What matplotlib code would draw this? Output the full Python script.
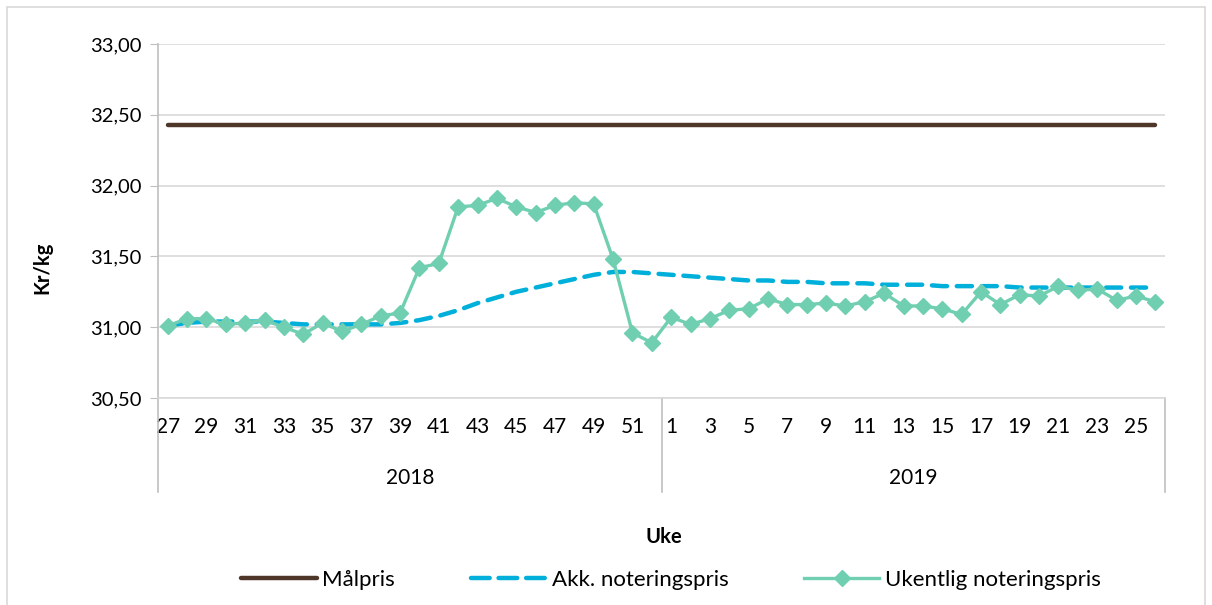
import matplotlib
matplotlib.use("Agg")
import matplotlib.pyplot as plt
from matplotlib.patches import Rectangle
from matplotlib.lines import Line2D
import matplotlib.transforms as mtransforms

plt.rcParams['font.family'] = ['Lato', 'DejaVu Sans']

# weeks 27-52 of 2018, then 1-26 of 2019
weeks_2018 = list(range(27, 53))
weeks_2019 = list(range(1, 27))
years = ["2018", "2019"]

malpris = 32.43

ukentlig = [31.01, 31.06, 31.06, 31.02, 31.03, 31.05, 31.00, 30.95, 31.03, 30.97,
            31.02, 31.08, 31.10, 31.42, 31.45, 31.85, 31.86, 31.91, 31.85, 31.81,
            31.86, 31.88, 31.87, 31.48, 30.96, 30.89,
            31.07, 31.02, 31.06, 31.12, 31.13, 31.20, 31.16, 31.16, 31.17, 31.15,
            31.18, 31.24, 31.15, 31.15, 31.13, 31.09, 31.25, 31.16, 31.23, 31.22,
            31.29, 31.26, 31.27, 31.19, 31.22, 31.18]

akk = [31.01, 31.03, 31.04, 31.04, 31.04, 31.04, 31.03, 31.02, 31.02, 31.02,
       31.02, 31.02, 31.03, 31.05, 31.08, 31.12, 31.17, 31.21, 31.25, 31.28,
       31.31, 31.34, 31.37, 31.39, 31.39, 31.38,
       31.37, 31.36, 31.35, 31.34, 31.33, 31.33, 31.32, 31.32, 31.31, 31.31,
       31.31, 31.30, 31.30, 31.30, 31.29, 31.29, 31.29, 31.29, 31.28, 31.28,
       31.28, 31.28, 31.28, 31.28, 31.28, 31.28]

yticks = [30.5, 31.0, 31.5, 32.0, 32.5, 33.0]

weeks = weeks_2018 + weeks_2019
x = list(range(len(weeks)))

fig = plt.figure(figsize=(12.12, 6.05), dpi=100)
fig.patches.append(Rectangle((7 / 1212, -0.02), 1198 / 1212, 1.02 - 7 / 605,
                             transform=fig.transFigure, fill=False,
                             edgecolor='#D9D9D9', linewidth=1.2))

ax = fig.add_axes([158 / 1212, 1 - 398 / 605, 1007 / 1212, 354 / 605])

l1, = ax.plot(x, [malpris] * len(x), color='#4E3629', linewidth=3.2,
              solid_capstyle='round', label='Målpris')
ax.plot(x, akk, color='#00B0DA', linewidth=3.2, dashes=(3.4, 2.2),
        dash_capstyle='round')
l3, = ax.plot(x, ukentlig, color='#70CFB0', linewidth=2.4, marker='D',
              markersize=8, label='Ukentlig noteringspris')
# legend proxy so the handle shows three whole dashes
l2 = Line2D([], [], color='#00B0DA', linewidth=3.2, dashes=(4.2, 2.0),
            dash_capstyle='round', label='Akk. noteringspris')

ax.set_xlim(-0.5, len(x) - 0.5)
ax.set_ylim(30.5, 33.0)
ax.set_yticks(yticks)
ax.set_yticklabels([f"{v:.2f}".replace('.', ',') for v in yticks])
ax.yaxis.grid(True, color='#D9D9D9', linewidth=1.2)
ax.set_axisbelow(True)

tick_pos = [i for i in x if i % 2 == 0]
ax.set_xticks(tick_pos)
ax.set_xticklabels([str(weeks[i]) for i in tick_pos])
ax.tick_params(axis='x', length=0, labelsize=15, pad=14, colors='#000000')
ax.tick_params(axis='y', length=6, color='#BFBFBF', labelsize=14.5, pad=6)

for s in ['top', 'right']:
    ax.spines[s].set_visible(False)
ax.spines['left'].set_color('#BFBFBF')
ax.spines['bottom'].set_color('#D9D9D9')
ax.spines['left'].set_linewidth(1.2)
ax.spines['bottom'].set_linewidth(1.2)

# year separators and labels below the axis
trans = mtransforms.blended_transform_factory(ax.transData, ax.transAxes)
n18 = len(weeks_2018)
for xv in [-0.5, n18 - 0.5, len(x) - 0.5]:
    ax.plot([xv, xv], [0, -0.265], color='#BFBFBF', linewidth=1.2,
            transform=trans, clip_on=False)
ax.text((n18 - 1) / 2, -0.225, years[0], transform=trans, ha='center',
        va='center', fontsize=15)
ax.text(n18 + (len(weeks_2019) - 1) / 2, -0.225, years[1], transform=trans,
        ha='center', va='center', fontsize=15)

fig.text(664 / 1212, 1 - 537 / 605, 'Uke', ha='center', va='center',
         fontsize=14.5, fontweight='bold')
fig.text(42 / 1212, 1 - 268 / 605, 'Kr/kg', ha='center', va='center',
         rotation=90, fontsize=14.5, fontweight='bold')

fig.legend(handles=[l1, l2, l3], loc='center', bbox_to_anchor=(671 / 1212, 1 - 580 / 605),
           ncol=3, frameon=False, fontsize=16, handlelength=3.4,
           columnspacing=3.4, handletextpad=0.25)

fig.savefig('out.png', dpi=100)
